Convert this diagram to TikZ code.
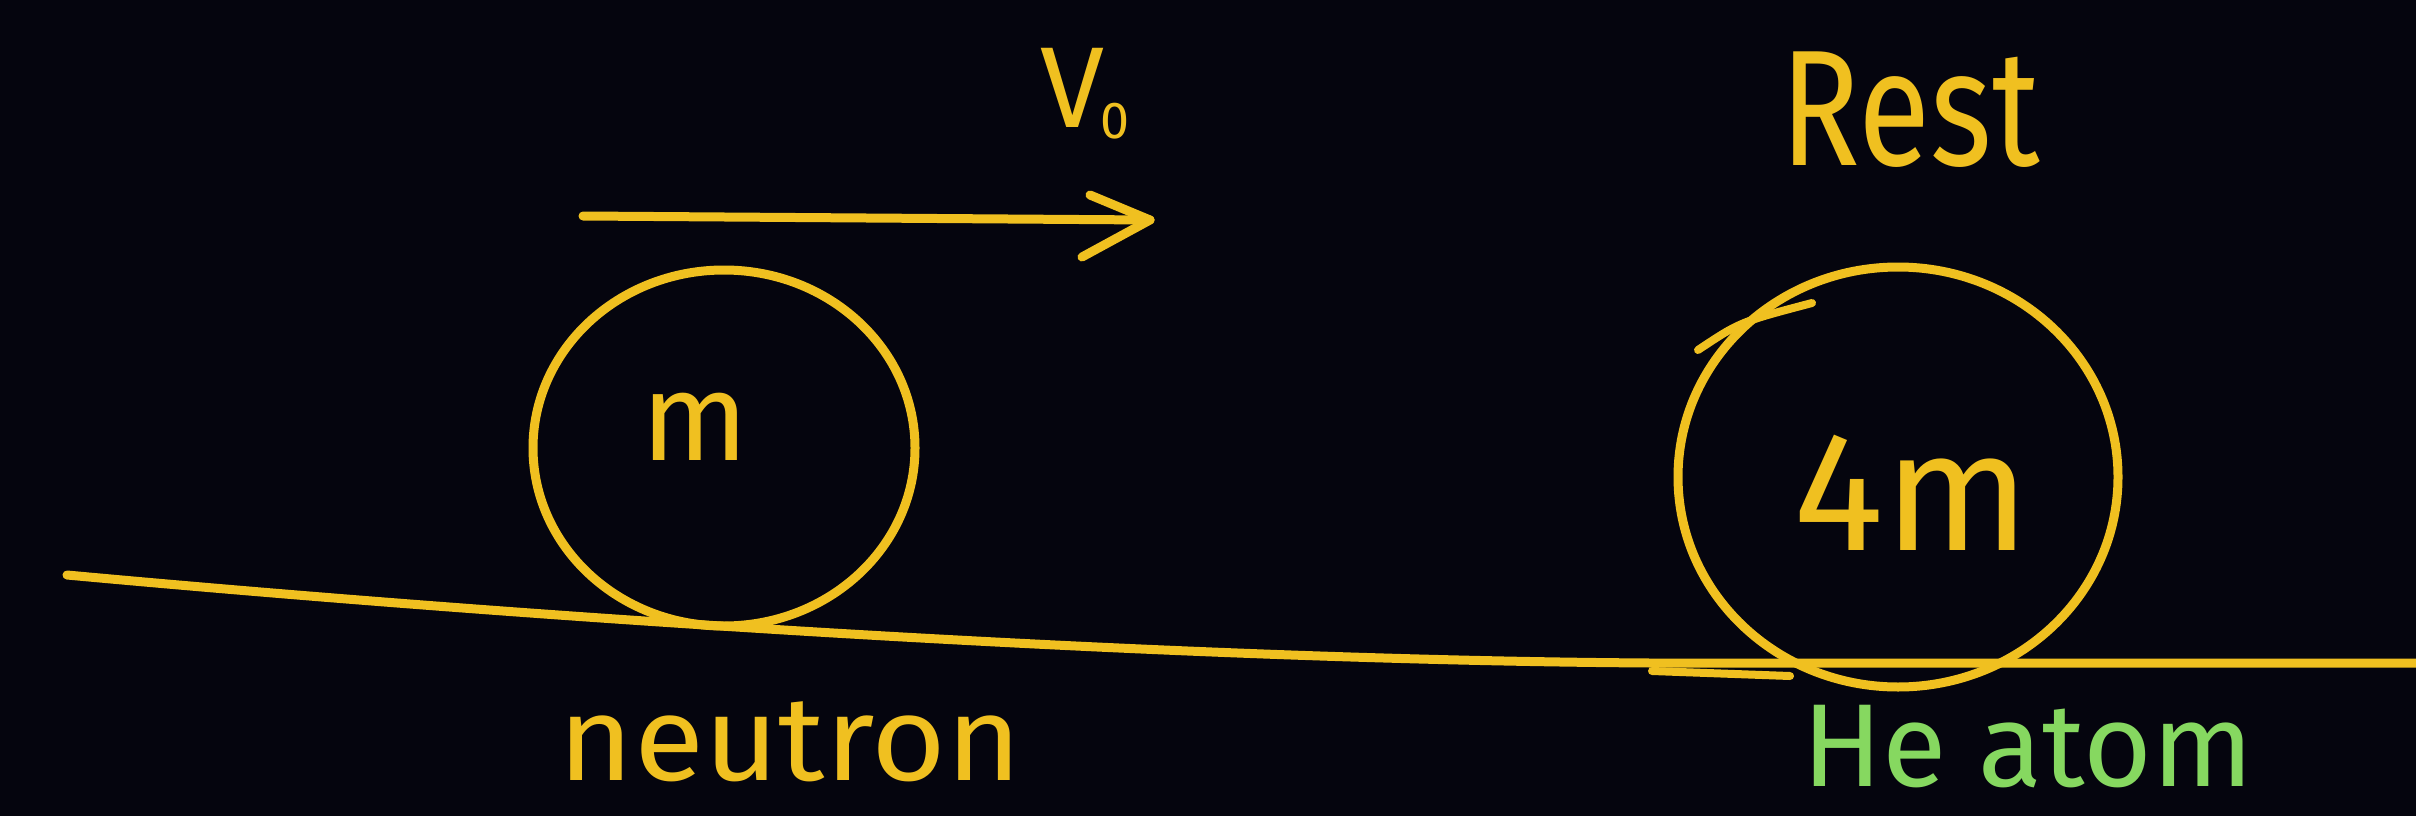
\documentclass[tikz,border=0pt]{standalone}
\usepackage{fontspec}
\setmainfont{Fira Sans}
\usetikzlibrary{shapes.geometric}
\definecolor{bg}{HTML}{05050E}
\definecolor{chalk}{HTML}{F0C020}
\definecolor{chalkgreen}{HTML}{86D860}
\begin{document}
\begin{tikzpicture}[x=1pt,y=-1pt,
  stroke/.style={draw=chalk,line width=9pt,line cap=round,line join=round},
  ball/.style={ellipse,draw=chalk,line width=9pt,inner sep=0pt},
  lbl/.style={text=chalk,inner sep=0pt,anchor=base,text depth=0pt}]
\fill[bg] (0,0) rectangle (2416,816);
\useasboundingbox (0,0) rectangle (2416,816);
% ground
\coordinate (gL) at (67,575);
\coordinate (gM) at (1650,663);
\coordinate (gR) at (2430,663);
\draw[stroke] (gL) .. controls (600,624) and (1200,660) .. (gM) -- (gR);
\coordinate (sA) at (1652,671);
\coordinate (sB) at (1790,676);
\draw[stroke,line width=8pt] (sA) -- (sB);
% balls
\node[ball,minimum width=382pt,minimum height=356pt] (n) at (724,448) {};
\node[ball,minimum width=440pt,minimum height=420pt] (he) at (1898,477) {};
\coordinate (k1) at (1698,350);
\coordinate (k2) at (1812,303);
\draw[stroke,line width=8pt] (k1) .. controls (1740,322) .. (k2);
% velocity arrow
\coordinate (a1) at (583,216);
\coordinate (a2) at (1150,220);
\coordinate (h1) at (1090,195);
\coordinate (h2) at (1082,257);
\draw[stroke] (a1) -- (a2);
\draw[stroke] (h1) -- (a2) -- (h2);
% labels
\node[lbl,anchor=base west] (v0) at (1040,127) {\fontsize{115}{120}\selectfont V\kern-4pt\raisebox{-11pt}{\fontsize{52}{56}\selectfont 0}};
\node[lbl,xscale=0.8] (rest) at (1910,165) {\fontsize{165}{180}\selectfont Rest};
\node[lbl] (m) at (695,460) {\fontsize{125}{130}\selectfont m};
\node[lbl] (m4) at (1912,550) {\fontsize{170}{180}\selectfont 4m};
\node[lbl,xscale=1.07] (neu) at (790,780) {\fontsize{120}{130}\selectfont neutron};
\node[lbl,text=chalkgreen,xscale=1.0] (hea) at (2028,786) {\fontsize{118}{126}\selectfont He atom};
\end{tikzpicture}
\end{document}
